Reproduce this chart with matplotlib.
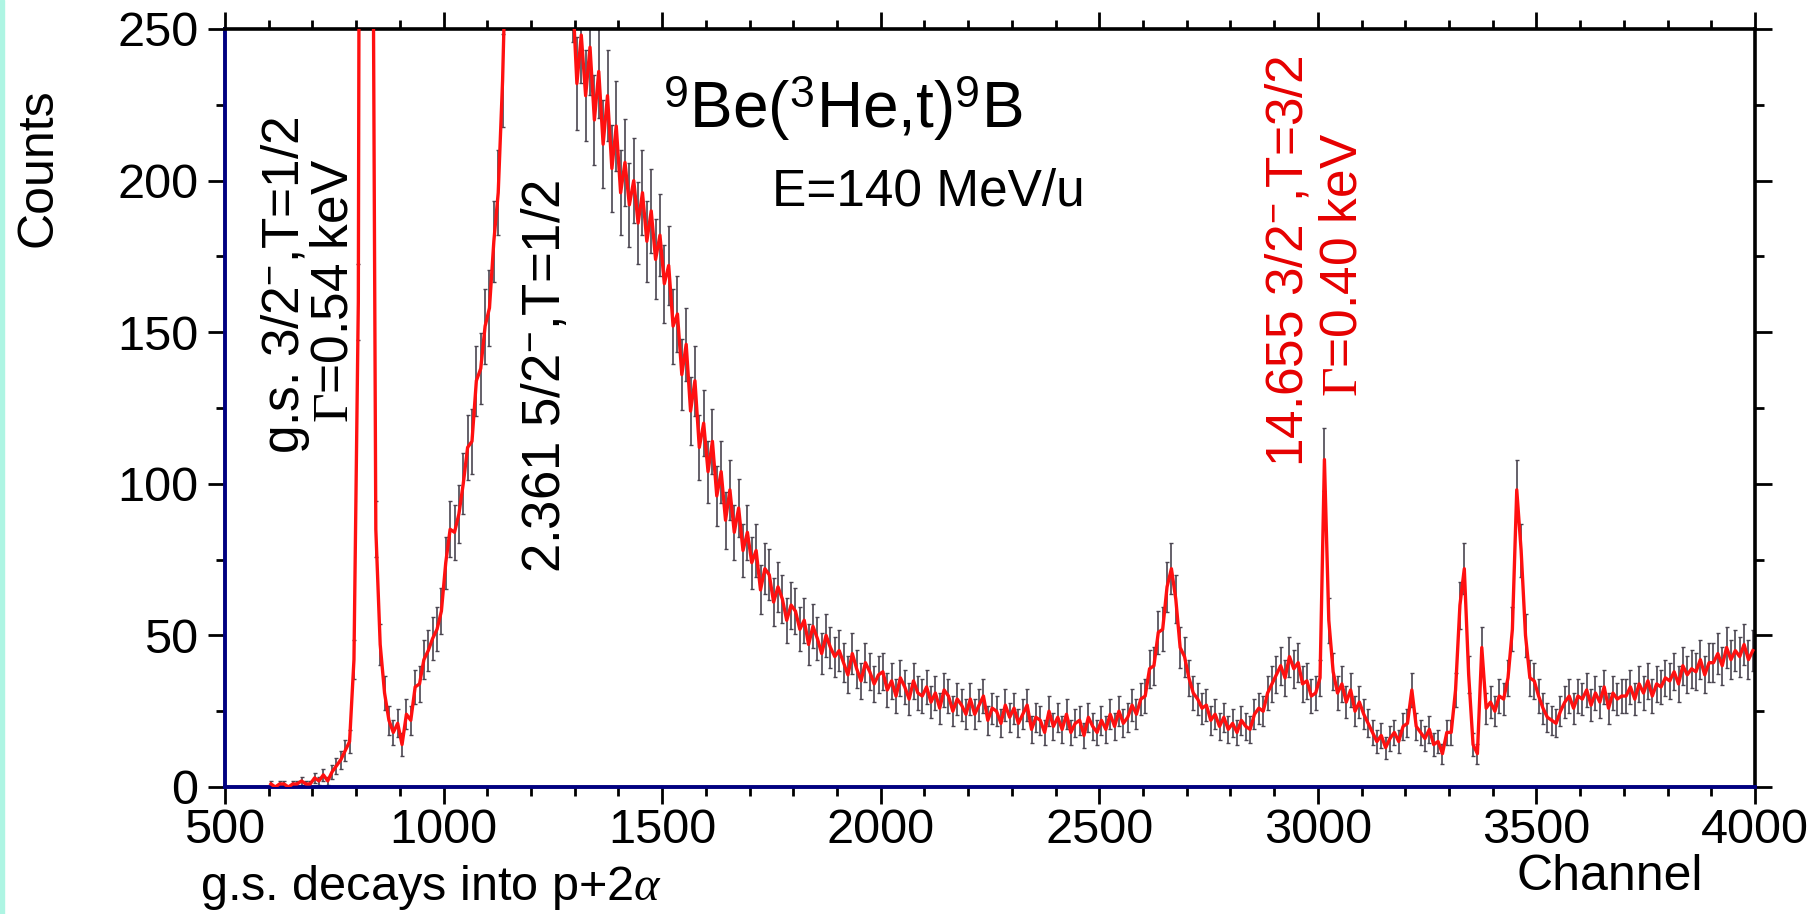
import numpy as np
import matplotlib
matplotlib.use("Agg")
import matplotlib.pyplot as plt
from matplotlib.ticker import MultipleLocator
from matplotlib.patches import Rectangle

plt.rcParams['font.family'] = ['Liberation Sans', 'DejaVu Sans']
plt.rcParams['mathtext.fontset'] = 'custom'
plt.rcParams['mathtext.rm'] = 'Liberation Serif'
plt.rcParams['mathtext.it'] = 'Liberation Serif:italic'
plt.rcParams['mathtext.sf'] = 'Liberation Sans'

# spectrum, 10-channel bins (bin centres 605 ... 3995)
channel = np.arange(605, 4000, 10)
counts = [
    1, 0, 1, 1, 0, 1, 1, 2, 1, 1,            # 600
    3, 2, 4, 2, 5, 7, 9, 12, 15, 42,         # 700
    160, 820, 1500, 400, 85, 47, 31, 22, 18, 21,   # 800  g.s. peak
    14, 24, 22, 33, 34, 42, 45, 49, 52, 58,  # 900
    74, 85, 84, 90, 100, 112, 114, 134, 138, 152,  # 1000
    158, 180, 196, 233, 290, 360, 480, 620, 760, 880,  # 1100  2.361 peak
    950, 980, 960, 880, 760, 600, 470, 370, 300, 262,  # 1200
    232, 248, 228, 244, 220, 236, 212, 228, 204, 218,  # 1300
    196, 206, 192, 200, 186, 196, 180, 190, 174, 182,  # 1400
    166, 172, 152, 156, 136, 146, 124, 134, 112, 120,  # 1500
    104, 114, 96, 104, 88, 98, 84, 92, 78, 84,   # 1600
    74, 78, 65, 72, 70, 61, 66, 62, 55, 60,      # 1700
    58, 52, 55, 47, 53, 49, 44, 50, 46, 43,      # 1800
    45, 41, 37, 44, 39, 35, 41, 38, 34, 37,      # 1900
    38, 32, 35, 30, 36, 33, 29, 35, 31, 30,      # 2000
    33, 28, 31, 26, 32, 30, 25, 29, 27, 24,      # 2100
    29, 24, 27, 30, 22, 26, 25, 21, 27, 23,      # 2200
    26, 21, 24, 27, 19, 23, 22, 18, 25, 20,      # 2300
    23, 19, 24, 18, 21, 22, 17, 23, 20, 18,      # 2400
    22, 19, 24, 20, 25, 21, 23, 27, 24, 29,      # 2500
    30, 39, 40, 51, 52, 66, 72, 62, 46, 43,      # 2600
    36, 31, 29, 26, 27, 22, 24, 20, 23, 19,      # 2700
    21, 18, 22, 20, 19, 24, 26, 25, 31, 34,      # 2800
    37, 40, 36, 43, 39, 41, 34, 35, 30, 31,      # 2900
    36, 108, 55, 38, 31, 34, 28, 32, 25, 28,     # 3000  14.655 peak
    24, 21, 18, 15, 17, 13, 16, 18, 15, 20,      # 3100
    21, 32, 20, 18, 16, 19, 14, 15, 11, 18,      # 3200
    18, 32, 60, 72, 37, 14, 11, 46, 26, 28,      # 3300
    25, 30, 29, 36, 52, 98, 78, 50, 36, 35,      # 3400
    30, 26, 23, 22, 21, 25, 28, 30, 26, 30,      # 3500
    29, 32, 27, 31, 28, 33, 26, 31, 29, 30,      # 3600
    30, 33, 29, 34, 31, 35, 30, 34, 33, 36,      # 3700
    35, 38, 34, 40, 37, 39, 38, 42, 37, 41,      # 3800
    41, 44, 40, 46, 42, 45, 43, 47, 42, 45,      # 3900
]
counts = np.array(counts, dtype=float)
errors = np.sqrt(counts)  # poisson errors

W, H = 1813, 914
def px(x, y):
    return x / W, 1 - y / H

fig = plt.figure(figsize=(W / 100, H / 100), dpi=100)
fig.patches.append(Rectangle((0, 0), 4 / W, 1, transform=fig.transFigure,
                             color='#aef5e3', zorder=0))
ax = fig.add_axes([225 / W, 1 - 787 / H, 1530 / W, 758 / H])

ax.errorbar(channel, counts, yerr=errors, fmt='none', ecolor='#4a4550',
            elinewidth=1.2, capsize=1.5, capthick=1, zorder=2)
ax.plot(channel, counts, color='#ff1010', lw=2.4, zorder=3)

ax.set_xlim(500, 4000)
ax.set_ylim(0, 250)
ax.xaxis.set_major_locator(MultipleLocator(500))
ax.xaxis.set_minor_locator(MultipleLocator(100))
ax.yaxis.set_major_locator(MultipleLocator(50))
ax.yaxis.set_minor_locator(MultipleLocator(25))

ax.tick_params(which='both', direction='out', top=True, right=True,
               labeltop=False, labelright=False, width=2, labelsize=35)
ax.tick_params(which='major', length=12)
ax.tick_params(which='minor', length=6.5)
ax.tick_params(axis='x', pad=3)
ax.tick_params(axis='y', pad=7)

for side in ['left', 'bottom']:
    ax.spines[side].set_color('#000080')
    ax.spines[side].set_linewidth(2.8)
for side in ['top', 'right']:
    ax.spines[side].set_color('black')
    ax.spines[side].set_linewidth(2.6)

fig.text(*px(38, 168), 'Counts', rotation=90, ha='center', va='center', fontsize=36)
fig.text(*px(1610, 890), 'Channel', ha='center', va='baseline', fontsize=36)
fig.text(*px(200, 900), r'g.s. decays into p+2$\alpha$', ha='left', va='baseline',
         fontsize=35)

fig.text(*px(663, 128), r'$^{\mathsf{9}}$Be($^{\mathsf{3}}$He,t)$^{\mathsf{9}}$B',
         ha='left', va='baseline', fontsize=46)
fig.text(*px(772, 206), 'E=140 MeV/u', ha='left', va='baseline', fontsize=37)

fig.text(*px(285, 454), r'g.s. 3/2$^{\mathsf{-}}$,T=1/2', rotation=90,
         ha='center', va='bottom', fontsize=37)
fig.text(*px(334, 423), r'$\Gamma$=0.54 keV', rotation=90,
         ha='center', va='bottom', fontsize=37)
fig.text(*px(546, 573), r'2.361 5/2$^{\mathsf{-}}$,T=1/2', rotation=90,
         ha='center', va='bottom', fontsize=38)
fig.text(*px(1289, 467), r'14.655 3/2$^{\mathsf{-}}$,T=3/2', rotation=90,
         ha='center', va='bottom', fontsize=37, color='#e60000')
fig.text(*px(1343, 397), r'$\Gamma$=0.40 keV', rotation=90,
         ha='center', va='bottom', fontsize=37, color='#e60000')

fig.savefig('out.png', dpi=100)
